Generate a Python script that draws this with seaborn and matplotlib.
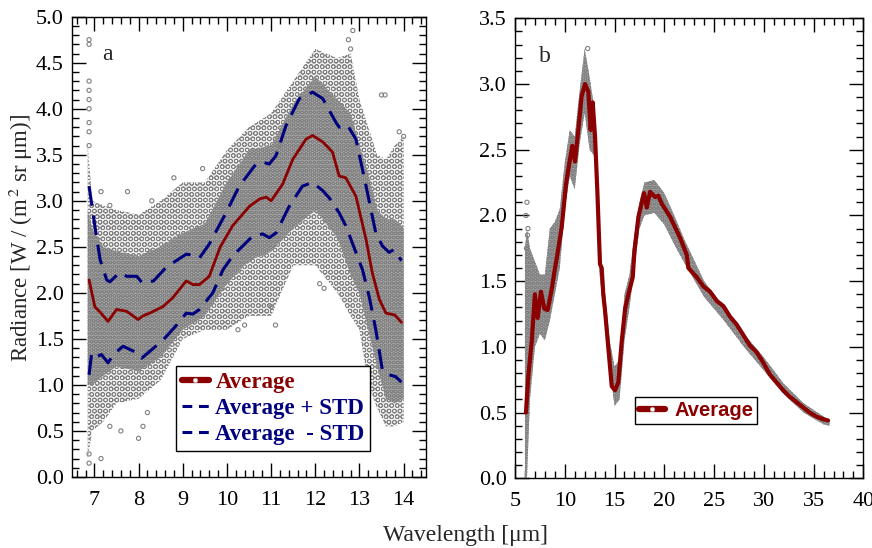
import numpy as np
import pandas as pd
import matplotlib
matplotlib.use('Agg')
import matplotlib.pyplot as plt
import seaborn as sns
from matplotlib.lines import Line2D
from matplotlib.ticker import MultipleLocator

# ---- panel a: 7-14 um ----
avg_a_wl = [6.88, 7.01, 7.15, 7.31, 7.5, 7.73, 7.85, 7.99, 8.1, 8.25, 8.55, 8.78, 9.08, 9.23,
            9.38, 9.6, 9.85, 10.13, 10.51, 10.74, 10.89, 11.0, 11.26, 11.49, 11.79, 11.94,
            12.17, 12.39, 12.54, 12.69, 12.92, 13.15, 13.29, 13.45, 13.6, 13.8, 13.95]
avg_a = [2.14, 1.85, 1.78, 1.69, 1.82, 1.80, 1.76, 1.71, 1.75, 1.78, 1.85, 1.95, 2.13, 2.09,
         2.09, 2.18, 2.50, 2.73, 2.94, 3.02, 3.04, 3.00, 3.18, 3.45, 3.67, 3.71,
         3.64, 3.53, 3.27, 3.25, 3.05, 2.58, 2.22, 1.93, 1.78, 1.76, 1.68]

up_a_wl = [6.88, 7.01, 7.13, 7.28, 7.35, 7.57, 7.73, 7.96, 8.08, 8.34, 8.63, 9.08, 9.23, 9.38,
           9.6, 9.98, 10.28, 10.66, 10.81, 10.96, 11.11, 11.34, 11.64, 11.94, 12.17, 12.47,
           12.54, 12.73, 12.92, 13.15, 13.37, 13.52, 13.67, 13.78, 13.95]
up_a = [3.16, 2.73, 2.36, 2.14, 2.12, 2.22, 2.18, 2.18, 2.11, 2.13, 2.28, 2.42, 2.41, 2.38,
        2.53, 2.87, 3.16, 3.40, 3.42, 3.40, 3.49, 3.82, 4.11, 4.18, 4.11, 3.85,
        3.80, 3.82, 3.67, 3.16, 2.65, 2.51, 2.44, 2.47, 2.35]

lo_a_wl = [6.88, 6.94, 7.06, 7.16, 7.31, 7.43, 7.65, 7.96, 8.07, 8.34, 8.56, 8.86, 9.08, 9.23,
           9.38, 9.68, 9.91, 10.13, 10.59, 10.81, 10.96, 11.11, 11.41, 11.71, 11.94, 12.17,
           12.32, 12.54, 12.69, 12.92, 13.07, 13.22, 13.37, 13.52, 13.67, 13.82, 13.95]
lo_a = [1.11, 1.35, 1.31, 1.33, 1.24, 1.33, 1.42, 1.35, 1.29, 1.40, 1.49, 1.65, 1.78, 1.77,
        1.82, 2.00, 2.25, 2.40, 2.62, 2.64, 2.60, 2.65, 2.94, 3.16, 3.20, 3.11,
        3.03, 2.87, 2.73, 2.44, 2.25, 1.96, 1.60, 1.16, 1.11, 1.09, 1.03]

# scatter cloud of panel a (sparse outer band and dense inner band)
cloud_a_wl = [6.85, 6.95, 7.2, 7.5, 8.0, 8.5, 9.0, 9.5, 10.0, 10.5, 11.0, 11.5, 12.0, 12.5,
              12.8, 13.0, 13.2, 13.4, 13.6, 13.8, 14.0]
outer_hi_a = [3.6, 3.0, 2.95, 2.9, 2.85, 3.0, 3.2, 3.2, 3.55, 3.8, 3.95, 4.3, 4.65, 4.55,
              4.6, 4.1, 3.8, 3.5, 3.45, 3.6, 3.7]
outer_lo_a = [0.2, 0.5, 0.6, 0.8, 0.85, 1.05, 1.5, 1.6, 1.6, 1.75, 1.75, 2.3, 2.3, 2.0,
              1.75, 1.6, 1.0, 0.75, 0.55, 0.55, 0.6]
inner_hi_a = [2.9, 2.7, 2.5, 2.45, 2.4, 2.5, 2.65, 2.75, 3.2, 3.55, 3.6, 4.05, 4.35, 4.1,
              3.95, 3.6, 3.3, 2.9, 2.8, 2.8, 2.7]
inner_lo_a = [1.0, 1.0, 1.1, 1.2, 1.15, 1.3, 1.6, 1.75, 2.1, 2.35, 2.45, 2.7, 2.9, 2.6,
              2.2, 2.0, 1.6, 1.2, 0.85, 0.8, 0.85]

stray_a_wl = [6.88, 6.88, 6.88, 6.88, 6.88, 6.88, 6.88, 6.88, 6.88, 6.88, 6.88,
              7.15, 7.35, 7.75, 8.3, 8.8, 9.45, 11.2, 12.75, 12.8, 12.85, 13.5, 13.58, 13.9, 14.0,
              7.15, 7.35, 7.6, 8.0, 8.1, 8.2, 10.25, 10.4, 11.0, 11.1, 12.1, 12.2]
stray_a = [4.75, 4.7, 4.3, 4.2, 4.1, 4.0, 3.85, 3.75, 3.6, 0.15, 0.25,
           3.1, 2.95, 3.1, 3.0, 3.25, 3.35, 3.6, 4.75, 4.65, 4.85, 4.15, 4.15, 3.75, 3.7,
           0.2, 0.55, 0.5, 0.42, 0.55, 0.7, 1.6, 1.65, 1.85, 1.65, 2.1, 2.05]

# ---- panel b: 5-37 um ----
avg_b_wl = [6.1, 6.34, 6.68, 7.0, 7.28, 7.61, 7.95, 8.28, 8.69, 9.02, 9.25, 9.69, 10.13, 10.46,
            10.76, 11.03, 11.36, 11.7, 12.04, 12.37, 12.6, 12.81, 13.04, 13.27, 13.54, 13.71,
            13.87, 14.04, 14.38, 14.72, 15.05, 15.38, 15.72, 16.06, 16.39, 16.83, 17.0, 17.4,
            17.96, 18.24, 18.57, 19.07, 19.4, 19.74, 20.58, 21.58, 22.26, 22.42, 23.26, 23.93,
            24.6, 25.27, 25.94, 26.6, 27.27, 27.94, 28.6, 29.27, 29.94, 30.6, 31.27, 31.94,
            32.61, 33.27, 33.94, 34.6, 35.27, 35.94, 36.45]
avg_b = [0.50, 0.78, 1.04, 1.40, 1.22, 1.42, 1.29, 1.28, 1.44, 1.60, 1.70, 1.91, 2.24, 2.40,
         2.53, 2.41, 2.65, 2.91, 3.00, 2.94, 2.65, 2.86, 2.60, 2.19, 1.63, 1.60,
         1.40, 1.28, 0.99, 0.70, 0.67, 0.73, 1.04, 1.29, 1.40, 1.53, 1.73, 1.99,
         2.17, 2.06, 2.18, 2.14, 2.15, 2.09, 1.99, 1.83, 1.70, 1.60, 1.53, 1.46,
         1.42, 1.35, 1.31, 1.23, 1.17, 1.09, 1.01, 0.96, 0.88, 0.79, 0.73, 0.67,
         0.62, 0.58, 0.54, 0.50, 0.47, 0.45, 0.44]

cloud_b_wl = [6.0, 6.2, 6.5, 7.0, 7.5, 8.0, 8.5, 9.0, 9.5, 10.0, 10.5, 11.0, 11.5, 12.0, 12.5,
              13.0, 13.5, 14.0, 14.5, 15.0, 15.5, 16.0, 16.5, 17.0, 17.5, 18.0, 19.0, 20.0,
              21.0, 22.0, 24.0, 26.0, 28.0, 30.0, 32.0, 34.0, 36.0, 36.6]
cloud_hi_b = [1.75, 1.9, 1.75, 1.65, 1.55, 1.55, 1.9, 1.95, 2.05, 2.4, 2.65, 2.6, 2.95, 3.27, 3.05,
              2.8, 1.75, 1.45, 1.05, 0.85, 0.9, 1.4, 1.55, 1.85, 2.1, 2.25, 2.27, 2.17,
              2.0, 1.82, 1.5, 1.3, 1.1, 0.92, 0.72, 0.57, 0.47, 0.44]
cloud_lo_b = [0.0, 0.0, 0.6, 1.0, 1.1, 1.05, 1.2, 1.4, 1.6, 2.05, 2.3, 2.2, 2.55, 2.78, 2.5,
              2.45, 1.55, 1.2, 0.85, 0.55, 0.6, 1.05, 1.3, 1.6, 1.9, 2.0, 2.02, 1.93,
              1.78, 1.64, 1.38, 1.2, 1.0, 0.82, 0.64, 0.5, 0.41, 0.40]

stray_b_wl = [6.1, 6.2, 6.3, 6.15, 6.25, 12.3]
stray_b = [2.0, 2.1, 1.9, 1.75, 1.85, 3.27]

red = '#8b0000'
navy = '#00007f'
grey = '#808080'

sns.set_theme(style='ticks')
plt.rcParams['font.family'] = ['Liberation Serif', 'DejaVu Serif']
plt.rcParams['mathtext.fontset'] = 'stix'
plt.rcParams['hatch.linewidth'] = 0.6
plt.rcParams['axes.linewidth'] = 1.0

fig = plt.figure(figsize=(8.72, 5.48), dpi=100)
ax1 = fig.add_axes([0.0829, 0.1296, 0.4053, 0.8399])
ax2 = fig.add_axes([0.5906, 0.1272, 0.3995, 0.8394])


def cloud(ax, x, lo, hi, hatch, face):
    ax.fill_between(x, lo, hi, facecolor=face, edgecolor=grey, hatch=hatch, linewidth=0, zorder=1)


cloud(ax1, cloud_a_wl, outer_lo_a, outer_hi_a, 'OOO', '#f2f2f2')
cloud(ax1, cloud_a_wl, inner_lo_a, inner_hi_a, 'OOOO', '#a9a9a9')
sns.scatterplot(x=stray_a_wl, y=stray_a, ax=ax1, marker='o', s=9, facecolor='none',
                edgecolor=grey, linewidth=0.8, zorder=2)

dash = (0, (6.5, 3.2))
sns.lineplot(x=up_a_wl, y=up_a, ax=ax1, color=navy, lw=2.2, linestyle=dash, zorder=3)
sns.lineplot(x=lo_a_wl, y=lo_a, ax=ax1, color=navy, lw=2.2, linestyle=dash, zorder=3)
sns.lineplot(x=avg_a_wl, y=avg_a, ax=ax1, color=red, lw=2.0, zorder=4)

cloud(ax2, cloud_b_wl, cloud_lo_b, cloud_hi_b, 'OOOO', '#a0a0a0')
sns.scatterplot(x=stray_b_wl, y=stray_b, ax=ax2, marker='o', s=9, facecolor='none',
                edgecolor=grey, linewidth=0.8, zorder=2)
sns.lineplot(x=avg_b_wl, y=avg_b, ax=ax2, color=red, lw=3.0, zorder=4)

ax1.set_xlim(6.5, 14.5)
ax1.set_ylim(0, 5)
ax1.xaxis.set_major_locator(MultipleLocator(1))
ax1.xaxis.set_minor_locator(MultipleLocator(0.2))
ax1.yaxis.set_major_locator(MultipleLocator(0.5))
ax1.yaxis.set_minor_locator(MultipleLocator(0.1))
ax1.yaxis.set_major_formatter('{x:.1f}')

ax2.set_xlim(5, 40)
ax2.set_ylim(0, 3.5)
ax2.xaxis.set_major_locator(MultipleLocator(5))
ax2.xaxis.set_minor_locator(MultipleLocator(1))
ax2.yaxis.set_major_locator(MultipleLocator(0.5))
ax2.yaxis.set_minor_locator(MultipleLocator(0.1))
ax2.yaxis.set_major_formatter('{x:.1f}')

for ax in (ax1, ax2):
    ax.set_xlabel('')
    ax.set_ylabel('')
    ax.tick_params(which='both', direction='in', top=True, right=True, colors='black',
                   labelsize=16, width=1.0)
    ax.tick_params(which='major', length=10)
    ax.tick_params(which='minor', length=5)
    ax.tick_params(axis='x', pad=10)
    ax.tick_params(axis='y', pad=6)
    for s in ax.spines.values():
        s.set_color('black')

ax1.text(0.085, 0.905, 'a', transform=ax1.transAxes, fontsize=17)
ax2.text(0.07, 0.905, 'b', transform=ax2.transAxes, fontsize=17)

h_avg = Line2D([], [], color=red, lw=4.5, marker='o', ms=3.2, mfc='white', mec='#aaaaaa', mew=0.6)
h_up = Line2D([], [], color=navy, lw=2.2, linestyle=(0, (3.2, 2.2)))
leg1 = ax1.legend([h_avg, h_up, h_up], ['Average', 'Average + STD', 'Average  - STD'],
                  loc='lower left', bbox_to_anchor=(0.293, 0.057), borderaxespad=0,
                  frameon=True, fancybox=False, edgecolor='black', framealpha=1,
                  handlelength=1.2, handletextpad=0.28, labelspacing=0.22, borderpad=0.25,
                  prop={'family': 'Liberation Serif', 'weight': 'bold', 'size': 16.5})
leg1.get_frame().set_linewidth(1.0)
for t, c in zip(leg1.get_texts(), [red, navy, navy]):
    t.set_color(c)

leg2 = ax2.legend([h_avg], ['Average'], loc='lower left', bbox_to_anchor=(0.3445, 0.117),
                  borderaxespad=0, frameon=True, fancybox=False, edgecolor='black',
                  framealpha=1, handlelength=1.3, handletextpad=0.45, borderpad=0.2,
                  prop={'family': 'Liberation Sans', 'weight': 'bold', 'size': 14.5})
leg2.get_frame().set_linewidth(1.0)
leg2.get_texts()[0].set_color(red)

fig.text(0.024, 0.566, 'Radiance [W / (m$^{\\,2}$ sr μm)]', rotation=90, ha='center',
         va='center', fontsize=16.5)
fig.text(0.534, 0.022, 'Wavelength [μm]', ha='center', va='center', fontsize=17)

fig.savefig('out.png', dpi=100)
